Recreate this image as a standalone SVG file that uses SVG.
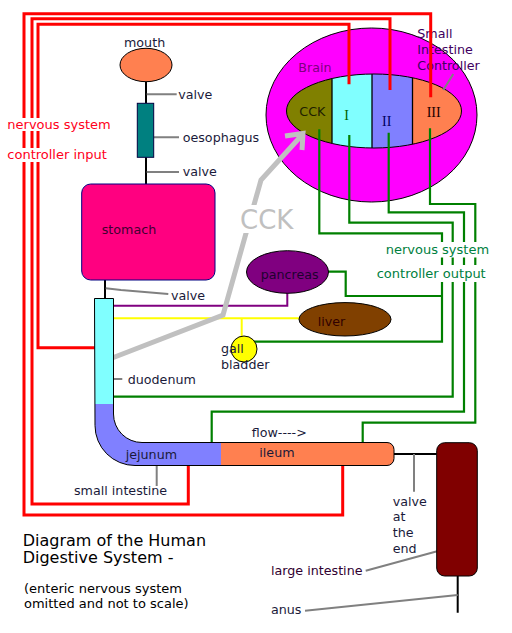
<svg xmlns="http://www.w3.org/2000/svg" width="512" height="633" viewBox="0 0 512 633">
<style>
text{font-family:"DejaVu Sans",Verdana,sans-serif;font-size:12.7px;fill:#1a1a3a}
.ser{font-family:"Liberation Serif","Times New Roman",serif;font-size:14px}
.red{fill:#ff0020;font-size:13px}
.grn{fill:#008040;font-size:13px}
.org{stroke:#000;stroke-width:1}
.red-l{fill:none;stroke:#ff0000;stroke-width:3}
.grn-l{fill:none;stroke:#008000;stroke-width:2.2}
.blk{fill:none;stroke:#000;stroke-width:2}
.gry{fill:none;stroke:#808080;stroke-width:2}
.mask{fill:#fff}
</style>
<defs>
<clipPath id="brainClip"><ellipse cx="374" cy="111" rx="87.5" ry="37"/></clipPath>
<clipPath id="tubeClip"><path id="tubeShape" d="M94.5,298.5 H113.5 V414 A28.5,28.5 0 0 0 142,442.5 H387 A7,7 0 0 1 394,449.5 V458.5 A7,7 0 0 1 387,465.5 H135 A40,40 0 0 1 95,425.5 Z"/></clipPath>
</defs>
<rect width="512" height="633" fill="#fff"/>

<g id="brain">
<ellipse cx="371.5" cy="115" rx="105.5" ry="87" fill="#ff00ff" stroke="#000" stroke-width="1"/>
<g clip-path="url(#brainClip)">
<rect x="280" y="70" width="52" height="82" fill="#808000"/>
<rect x="332" y="70" width="40" height="82" fill="#80ffff"/>
<rect x="372" y="70" width="40.5" height="82" fill="#8080ff"/>
<rect x="412.5" y="70" width="52" height="82" fill="#ff8050"/>
<path d="M332,60 V160 M372,60 V160 M412.5,60 V160" stroke="#000" stroke-width="1.3"/>
</g>
<ellipse cx="374" cy="111" rx="87.5" ry="37" fill="none" stroke="#000" stroke-width="1"/>
<text x="298.3" y="71.7" style="fill:#800080">Brain</text>
<text x="417.3" y="38.3" style="fill:#400060">Small</text>
<text x="417.3" y="54.3" style="fill:#400060">Intestine</text>
<text x="417.3" y="70" style="fill:#400060">Controller</text>
<text x="299.3" y="116" style="fill:#202000">CCK</text>
<text x="344.3" y="120" class="ser" style="fill:#006000">I</text>
<text x="382" y="125.7" class="ser" style="fill:#000060">II</text>
<text x="426.7" y="117.3" class="ser" style="fill:#200000">III</text>
</g>

<g id="connectors">
<path class="red-l" d="M430.7,97.3 V13.8 H24 V515 H342.7 V452.7 H347.3"/>
<path class="red-l" d="M390,90 V18.8 H32 V504 H188.3 V452.7 H191.7"/>
<path class="red-l" d="M349,84.3 V24.2 H38 V347.7 H102.7 V352.7"/>
<path class="grn-l" d="M319.3,129.3 V233.3 H442 V341.7 H248.3"/>
<path class="grn-l" d="M321.7,271.7 H345.7 V296 H442"/>
<path class="grn-l" d="M349.3,135 V222.7 H452.7 V396.7 H102.7 V392"/>
<path class="grn-l" d="M388.7,132.7 V212.3 H464 V411.7 H211.7 V452.7 H207.3"/>
<path class="grn-l" d="M430,128.3 V204 H475.3 V422.7 H362.7 V451.7 H358.3"/>
<path d="M287.3,293 V305.7 H106.7 V311 M103.5,308 V313 M103.5,313 H107" fill="none" stroke="#800080" stroke-width="2"/>
<path d="M299,318.3 H107.7 M241.7,318.3 V336.7" fill="none" stroke="#ffff00" stroke-width="2"/>
<path d="M106.5,320 L104,329 L106.5,337" fill="none" stroke="#ffff00" stroke-width="1.5" stroke-dasharray="2,3"/>
<path class="blk" d="M146,81.7 V103.3 M146,157.3 V184 M105,280 V298.3 M394,454 H436.7 M457.7,576 V612.7"/>
<path class="gry" d="M146.7,94.3 H176.7 M153.7,137.3 H179 M146.7,172 H179 M105.7,288.3 L121,290 L168.3,294 M103.3,379 H122.3 M156.7,466 V486 M414,454 V491.7 M365.7,570.7 L450,547.7 M305,610.7 L457.7,595 M453.3,74 L443.3,90"/>
<path d="M107,360 L223,315 L261,180 L302,135 M285,136 L303,133.5 L302,150" fill="none" stroke="#c0c0c0" stroke-width="5" stroke-linejoin="miter"/>
<rect class="mask" x="238" y="205" width="58" height="28"/>
<text x="240" y="229" style="font-size:26px;fill:#c0c0c0">CCK</text>
<rect class="mask" x="5" y="118" width="109" height="13"/>
<rect class="mask" x="5" y="148" width="109" height="14"/>
<text x="7.3" y="128.5" class="red">nervous system</text>
<text x="7.3" y="159.3" class="red">controller input</text>
<rect class="mask" x="384" y="242" width="106" height="15.5"/>
<rect class="mask" x="375" y="265" width="115" height="17"/>
<text x="385.7" y="254" class="grn">nervous system</text>
<text x="376.7" y="277.7" class="grn">controller output</text>
</g>

<g id="mouth">
<ellipse cx="146" cy="65" rx="26" ry="16.7" fill="#ff8050" class="org"/>
<text x="124" y="46.5">mouth</text>
<text x="178.3" y="99.3">valve</text>
</g>
<g id="oesophagus">
<rect x="137.3" y="103.3" width="16.4" height="54" fill="#008080" stroke="#000040" stroke-width="1"/>
<text x="182.7" y="141.7">oesophagus</text>
<text x="182.7" y="176">valve</text>
</g>
<g id="stomach">
<rect x="81.7" y="184" width="133.3" height="96" rx="9" fill="#ff0080" stroke="#000080" stroke-width="1"/>
<text x="101.7" y="234.3" style="fill:#400030">stomach</text>
<text x="171" y="300">valve</text>
</g>
<g id="small-intestine">
<g clip-path="url(#tubeClip)">
<rect x="90" y="295" width="310" height="175" fill="#8080ff"/>
<rect x="90" y="295" width="30" height="109" fill="#80ffff"/>
<rect x="221" y="440" width="180" height="30" fill="#ff8050"/>
</g>
<use href="#tubeShape" fill="none" stroke="#000" stroke-width="1"/>
<text x="127.7" y="384">duodenum</text>
<text x="125.7" y="459.3">jejunum</text>
<text x="259.3" y="457.3">ileum</text>
<text x="251.7" y="437.3">flow----&gt;</text>
<text x="74" y="495">small intestine</text>
</g>
<g id="pancreas">
<ellipse cx="287.5" cy="272" rx="41" ry="21.3" fill="#800080" class="org"/>
<text x="260.7" y="279.3" style="fill:#200030">pancreas</text>
</g>
<g id="liver">
<ellipse cx="345" cy="319.3" rx="46" ry="16.7" fill="#804000" class="org"/>
<text x="317.7" y="326" style="fill:#300000">liver</text>
</g>
<g id="gall-bladder">
<circle cx="244" cy="349" r="13" fill="#ffff00" class="org"/>
<text x="221" y="353.3">gall</text>
<text x="221" y="368.7">bladder</text>
</g>
<g id="large-intestine">
<rect x="436.7" y="442.7" width="40.6" height="133.3" rx="8" fill="#800000" class="org"/>
<text x="392.7" y="506">valve</text>
<text x="392.7" y="521.3">at</text>
<text x="392.7" y="537.3">the</text>
<text x="392.7" y="553.3">end</text>
<text x="271" y="575" style="fill:#300030">large intestine</text>
<text x="271" y="614.3">anus</text>
</g>
<g id="title">
<text x="22.7" y="545.7" style="font-size:16px;fill:#000">Diagram of the Human</text>
<text x="22.7" y="563.3" style="font-size:16px;fill:#000">Digestive System -</text>
<text x="24" y="592.7" style="font-size:13px;fill:#000">(enteric nervous system</text>
<text x="24" y="608.3" style="font-size:13px;fill:#000">omitted and not to scale)</text>
</g>
</svg>
